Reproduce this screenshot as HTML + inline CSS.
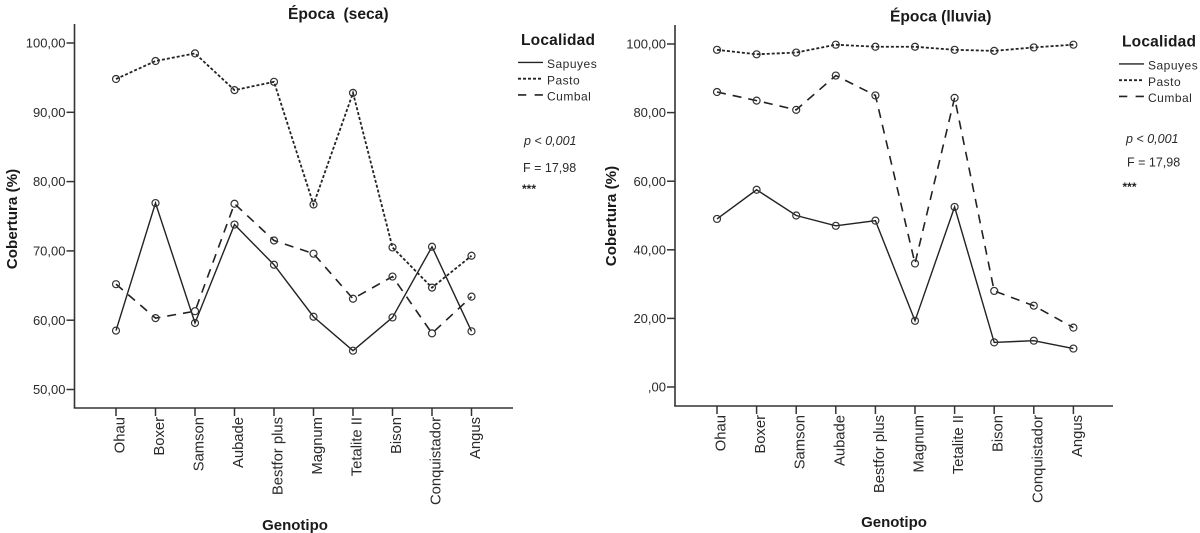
<!DOCTYPE html>
<html lang="es">
<head>
<meta charset="utf-8">
<title>Cobertura por genotipo</title>
<style>
html,body{margin:0;padding:0;background:#fff;width:1200px;height:533px;overflow:hidden}
svg{display:block;font-family:"Liberation Sans",sans-serif;filter:blur(0.3px)}
text{white-space:pre}
</style>
</head>
<body>
<svg id="chart" width="1200" height="533" viewBox="0 0 1200 533" xmlns="http://www.w3.org/2000/svg"></svg>
<script>
const categories = ['Ohau','Boxer','Samson','Aubade','Bestfor plus','Magnum','Tetalite II','Bison','Conquistador','Angus'];

const secaTicks = [50,60,70,80,90,100];
const secaSapuyes = [58.5,76.9,59.6,73.8,68.0,60.5,55.6,60.4,70.6,58.4];
const secaPasto = [94.8,97.4,98.5,93.2,94.4,76.7,92.8,70.5,64.7,69.3];
const secaCumbal = [65.2,60.3,61.3,76.8,71.5,69.6,63.1,66.3,58.1,63.4];

const lluviaTicks = [0,20,40,60,80,100];
const lluviaSapuyes = [49.0,57.5,50.0,47.0,48.5,19.3,52.5,13.0,13.5,11.2];
const lluviaPasto = [98.3,97.0,97.5,99.8,99.2,99.2,98.3,98.0,99.0,99.8];
const lluviaCumbal = [86.0,83.5,80.8,90.8,85.0,36.0,84.3,28.0,23.7,17.3];

const NS = 'http://www.w3.org/2000/svg';
const root = document.getElementById('chart');
const INK = '#2a2a2a';

function make(parent, tag, attrs, text) {
  const el = document.createElementNS(NS, tag);
  for (const k in attrs) el.setAttribute(k, attrs[k]);
  if (text !== undefined) el.textContent = text;
  parent.appendChild(el);
  return el;
}
function fmt(v) {
  return v === 0 ? ',00' : v.toFixed(2).replace('.', ',');
}

function drawPanel(cfg) {
  const g = make(root, 'g', {});
  
  

  const yScale = v => cfg.yTop + (cfg.vTop - v) * (cfg.yBottom - cfg.yTop) / (cfg.vTop - cfg.vBottom);
  const xScale = i => cfg.x0 + i * cfg.xStep;

  const title = make(g, 'text', {x: cfg.titleX, y: cfg.titleY, 'font-size': 15.6, 'font-weight': 'bold', fill: '#1a1a1a'}, cfg.title);
  
  

  const yAxis = make(g, 'line', {x1: cfg.axisX, x2: cfg.axisX, y1: cfg.axisTop, y2: cfg.axisY, stroke: '#333', 'stroke-width': 1.6});
  
  
  const xAxis = make(g, 'line', {x1: cfg.axisX - 0.8, x2: cfg.axisEnd, y1: cfg.axisY, y2: cfg.axisY, stroke: '#333', 'stroke-width': 1.6});
  
  

  cfg.ticks.forEach(v => {
    const y = yScale(v);
    const t = make(g, 'line', {x1: cfg.axisX - 8, x2: cfg.axisX, y1: y, y2: y, stroke: '#333', 'stroke-width': 1.5});
    
    
    const l = make(g, 'text', {x: cfg.axisX - 9, y: y + 4.6, 'font-size': 13, fill: INK, 'text-anchor': 'end'}, fmt(v));
    
    
  });

  categories.forEach((c, i) => {
    const x = xScale(i);
    const t = make(g, 'line', {x1: x, x2: x, y1: cfg.axisY, y2: cfg.axisY + 8, stroke: '#333', 'stroke-width': 1.5});
    
    
    const lx = x + 8.5, ly = cfg.axisY + 9;
    const l = make(g, 'text', {x: lx, y: ly, 'font-size': 14.8, fill: INK, 'text-anchor': 'end', transform: 'rotate(-90 ' + lx + ' ' + ly + ')'}, c);
    
    
  });

  const yTitle = make(g, 'text', {x: cfg.yTitleX, y: cfg.yTitleY, 'font-size': 15.2, 'font-weight': 'bold', fill: '#1a1a1a', 'text-anchor': 'middle', transform: 'rotate(-90 ' + cfg.yTitleX + ' ' + cfg.yTitleY + ')'}, 'Cobertura (%)');
  
  
  const xTitle = make(g, 'text', {x: cfg.xTitleX, y: cfg.xTitleY, 'font-size': 15, 'font-weight': 'bold', fill: '#1a1a1a', 'text-anchor': 'middle'}, 'Genotipo');
  
  

  const styles = {
    sapuyes: {dash: 'none', w: 1.4},
    pasto: {dash: '3 2', w: 1.8},
    cumbal: {dash: '9 7', w: 1.6}
  };
  cfg.series.forEach(s => {
    const st = styles[s.name];
    const sg = make(g, 'g', {});
    
    
    const pts = s.values.map((v, i) => xScale(i) + ',' + yScale(v)).join(' ');
    const line = make(sg, 'polyline', {points: pts, fill: 'none', stroke: '#222', 'stroke-width': st.w, 'stroke-dasharray': st.dash});
    
    
    s.values.forEach((v, i) => {
      const p = make(sg, 'circle', {cx: xScale(i), cy: yScale(v), r: 3.5, fill: 'none', stroke: '#333', 'stroke-width': 1.2});
      
      
    });
  });

  const lg = make(g, 'g', {});
  
  
  const lx = cfg.legendX;
  const lt = make(lg, 'text', {x: lx, y: cfg.legendY, 'font-size': 15.5, 'font-weight': 'bold', fill: '#1a1a1a', 'letter-spacing': '0.2'}, 'Localidad');
  
  
  const entries = [['Sapuyes', 'sapuyes', 23], ['Pasto', 'pasto', 39.3], ['Cumbal', 'cumbal', 55.5]];
  entries.forEach(e => {
    const y = cfg.legendY + e[2];
    const st = styles[e[1]];
    const dash = e[1] === 'cumbal' ? '8.3 8.3' : st.dash;
    const sw = make(lg, 'line', {x1: lx - 3, x2: lx + 22, y1: y - 5.6, y2: y - 5.6, stroke: '#222', 'stroke-width': st.w, 'stroke-dasharray': dash});
    
    
    const tx = make(lg, 'text', {x: lx + 26, y: y, 'font-size': 12, fill: INK, 'letter-spacing': '0.5'}, e[0]);
    
    
  });

  const p = make(g, 'text', {x: cfg.pX, y: cfg.pY, 'font-size': 12.5, 'font-style': 'italic', fill: INK}, 'p < 0,001');
  
  
  const f = make(g, 'text', {x: cfg.fX, y: cfg.fY, 'font-size': 12.5, fill: INK}, 'F = 17,98');
  
  
  const a = make(g, 'text', {x: cfg.starX, y: cfg.starY, 'font-size': 12, 'font-weight': 'bold', fill: '#222'}, '***');
  
  
}

drawPanel({
  key: 'seca', title: 'Época  (seca)', titleX: 288, titleY: 19,
  axisX: 74.5, axisTop: 24, axisY: 408, axisEnd: 513,
  vTop: 100, vBottom: 50, yTop: 43, yBottom: 389.5,
  x0: 116, xStep: 39.5, ticks: secaTicks,
  yTitleX: 17, yTitleY: 219, xTitleX: 295, xTitleY: 530,
  legendX: 521, legendY: 45,
  pX: 524, pY: 145, fX: 523, fY: 172, starX: 522, starY: 193,
  series: [{name: 'sapuyes', values: secaSapuyes}, {name: 'pasto', values: secaPasto}, {name: 'cumbal', values: secaCumbal}]
});
drawPanel({
  key: 'lluvia', title: 'Época (lluvia)', titleX: 890, titleY: 21.5,
  axisX: 675, axisTop: 25, axisY: 406, axisEnd: 1113,
  vTop: 100, vBottom: 0, yTop: 44, yBottom: 387,
  x0: 717, xStep: 39.6, ticks: lluviaTicks,
  yTitleX: 616, yTitleY: 216, xTitleX: 894, xTitleY: 527,
  legendX: 1122, legendY: 46.5,
  pX: 1126, pY: 143, fX: 1127, fY: 166.5, starX: 1122.5, starY: 191,
  series: [{name: 'sapuyes', values: lluviaSapuyes}, {name: 'pasto', values: lluviaPasto}, {name: 'cumbal', values: lluviaCumbal}]
});
</script>
</body>
</html>
